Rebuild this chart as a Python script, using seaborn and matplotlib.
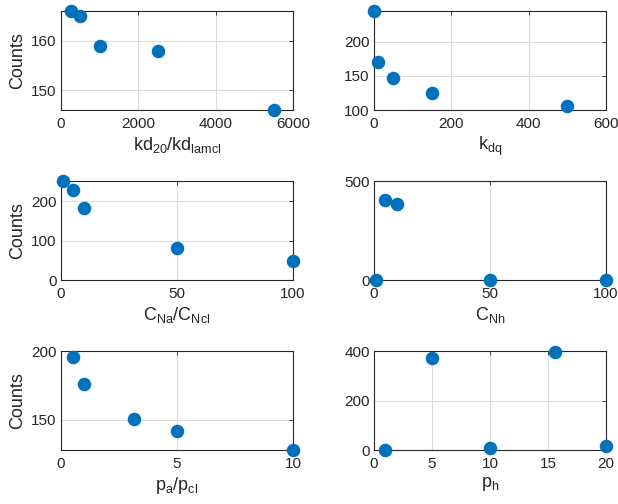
import numpy as np
import pandas as pd
import seaborn as sns
from matplotlib import pyplot as plt

# values
kd_ratio = [250, 500, 1000, 2500, 5500]
kd_counts = [166, 165, 159, 158, 146]

kdq = [1, 10, 50, 150, 500]
kdq_counts = [245, 171, 147, 125, 106]

c_ratio = [1, 5, 10, 50, 100]
c_ratio_counts = [251, 230, 183, 82, 48]

c_nh = [1, 5, 10, 50, 100]
c_nh_counts = [0, 405, 383, 0, 0]

p_ratio = [0.5, 1, 3.15, 5, 10]
p_ratio_counts = [196, 176, 151, 142, 128]

p_h = [1, 5, 10, 15.6, 20]
p_h_counts = [0, 372, 7, 399, 18]

sns.set_style("white")
plt.rcParams["font.family"] = ["Liberation Sans", "DejaVu Sans"]
plt.rcParams["mathtext.default"] = "regular"

dark = "#262626"
blue = "#0072BD"

panels = [
    (kd_ratio, kd_counts, r"kd$_{20}$/kd$_{lamcl}$", "Counts",
     (0, 6000), (146, 166), [0, 2000, 4000, 6000], [150, 160]),
    (kdq, kdq_counts, r"k$_{dq}$", None,
     (0, 600), (100, 245), [0, 200, 400, 600], [100, 150, 200]),
    (c_ratio, c_ratio_counts, r"C$_{Na}$/C$_{Ncl}$", "Counts",
     (0, 100), (0, 251), [0, 50, 100], [0, 100, 200]),
    (c_nh, c_nh_counts, r"C$_{Nh}$", None,
     (0, 100), (0, 500), [0, 50, 100], [0, 500]),
    (p_ratio, p_ratio_counts, r"p$_a$/p$_{cl}$", "Counts",
     (0, 10), (128, 200), [0, 5, 10], [150, 200]),
    (p_h, p_h_counts, r"p$_h$", None,
     (0, 20), (0, 400), [0, 5, 10, 15, 20], [0, 200, 400]),
]

lefts = [0.0987, 0.605]
bottoms = [0.7817, 0.4444, 0.107]
w, h = 0.3754, 0.196

fig = plt.figure(figsize=(6.18, 5.04), dpi=100)

for i, (x, y, xl, yl, xlim, ylim, xt, yt) in enumerate(panels):
    ax = fig.add_axes([lefts[i % 2], bottoms[i // 2], w, h])
    df = pd.DataFrame({"x": x, "y": y})
    sns.scatterplot(data=df, x="x", y="y", ax=ax, color=blue, s=95,
                    edgecolor=blue, linewidth=0, clip_on=False, zorder=3)
    ax.set_xlim(*xlim)
    ax.set_ylim(*ylim)
    ax.set_xticks(xt)
    ax.set_yticks(yt)
    ax.grid(True, color="#dcdcdc", linewidth=0.8)
    ax.tick_params(direction="in", length=3, width=0.6, colors=dark,
                   labelsize=11, top=True, right=True)
    ax.tick_params(axis="x", pad=5)
    ax.tick_params(axis="y", pad=3)
    for sp in ax.spines.values():
        sp.set_color(dark)
        sp.set_linewidth(0.8)
    ax.set_xlabel(xl, fontsize=13, color=dark, labelpad=3)
    ax.set_ylabel(yl if yl else "", fontsize=13, color=dark, labelpad=4)

fig.savefig("out.png", dpi=100)
